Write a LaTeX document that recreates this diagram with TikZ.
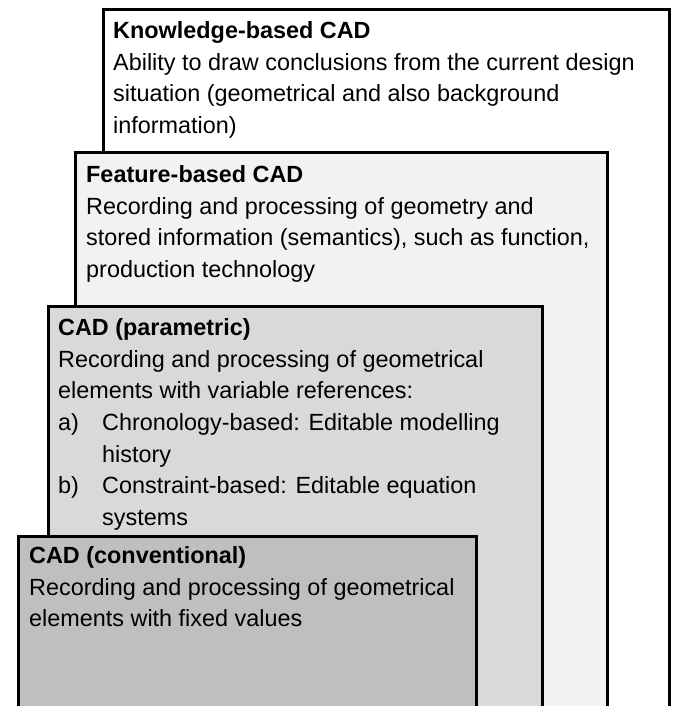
\documentclass[tikz,border=0pt]{standalone}
\usepackage{fontspec}
\setmainfont{Liberation Sans}
\usepackage{xcolor}
\definecolor{layerwhite}{RGB}{255,255,255}
\definecolor{layerlight}{RGB}{242,242,242}
\definecolor{layermid}{RGB}{217,217,217}
\definecolor{layerdark}{RGB}{191,191,191}
\usetikzlibrary{positioning,calc}
\tikzset{
  layer/.style   ={rectangle,draw=black,line width=3pt,anchor=north west,
                   inner sep=0pt,minimum height=720pt},
  layertext/.style={anchor=north west,inner sep=0pt,align=left,
                   font=\fontsize{23.4}{31.7}\selectfont},
}
\newcommand{\itemlabel}[1]{\makebox[44pt][l]{#1}}
\newcommand{\layertitle}[1]{\strut\textbf{#1}}
\begin{document}
\begin{tikzpicture}[x=1pt,y=-1pt]
  \clip (0,0) rectangle (672,706);
  \fill[white] (0,0) rectangle (672,706);
  % stacked layers, outermost first
  \node[layer,fill=layerwhite,minimum width=566pt] (knowledge) at (102,8) {};
  \node[layer,fill=layerlight,minimum width=532pt] (feature) at (74,151) {};
  \node[layer,fill=layermid,minimum width=494pt] (parametric) at (47,305) {};
  \node[layer,fill=layerdark,minimum width=458pt] (conventional) at (17,535) {};
  % texts (title baseline about 30pt below the top edge)
  \node[layertext] (knowledgetxt) at ($(knowledge.north west)+(11,8)$)
    {\layertitle{Knowledge-based CAD}\\
     Ability to draw conclusions from the current design\\
     situation (geometrical and also background\\
     information)};
  \node[layertext] (featuretxt) at ($(feature.north west)+(12,9)$)
    {\layertitle{Feature-based CAD}\\
     Recording and processing of geometry and\\
     stored information (semantics), such as function,\\
     production technology};
  \node[layertext] (parametrictxt) at ($(parametric.north west)+(11,8)$)
    {\layertitle{CAD (parametric)}\\
     Recording and processing of geometrical\\
     elements with variable references:\\
     \itemlabel{a)}Chronology-based: Editable modelling\\
     \itemlabel{}history\\
     \itemlabel{b)}Constraint-based: Editable equation\\
     \itemlabel{}systems};
  \node[layertext] (conventionaltxt) at ($(conventional.north west)+(12,6)$)
    {\layertitle{CAD (conventional)}\\
     Recording and processing of geometrical\\
     elements with fixed values};
\end{tikzpicture}
\end{document}
